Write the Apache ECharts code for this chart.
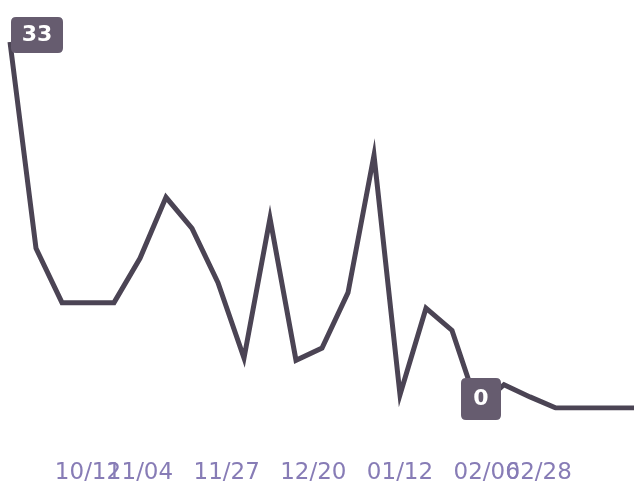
<!DOCTYPE html>
<html>
<head>
<meta charset="utf-8">
<script src="https://cdn.jsdelivr.net/npm/echarts@6/dist/echarts.min.js"></script>
<style>
  html, body { margin: 0; padding: 0; background: #ffffff; }
  #chart { width: 634px; height: 490px; }
</style>
</head>
<body>
<div id="chart"></div>
<script>
// Weekly counts, one value per week
const weeks = ['W01','W02','W03','W04','W05','W06','W07','W08','W09','W10','W11','W12','W13',
               'W14','W15','W16','W17','W18','W19','W20','W21','W22','W23','W24','W25'];
const counts = [33, 14.4, 9.5, 9.5, 9.5, 13.5, 19, 16.2, 11.3, 4.5, 17.1, 4.3, 5.4,
                10.4, 22.8, 1.2, 9, 7, 0, 2.1, 1, 0, 0, 0, 0];

// Date ticks along the bottom, placed in week units
const tickLabels = ['10/12', '11/04', '11/27', '12/20', '01/12', '02/06', '02/28'];
const tickWeeks = [3, 5, 25 / 3, 35 / 3, 15, 55 / 3, 61 / 3];

const chart = echarts.init(document.getElementById('chart'), null, { renderer: 'canvas' });

// Two label rows sharing one baseline, so neighbouring dates may touch
function dateAxis(parity) {
  const vals = tickWeeks.filter(function (_, i) { return i % 2 === parity; });
  return {
    type: 'value',
    min: 0,
    max: weeks.length - 1,
    position: 'bottom',
    axisLine: { show: false },
    axisTick: { show: false },
    splitLine: { show: false },
    axisLabel: {
      customValues: vals,
      margin: 54,
      color: '#877cb6',
      fontFamily: 'DejaVu Sans',
      fontSize: 23,
      hideOverlap: false,
      formatter: function (v) {
        let best = 0;
        tickWeeks.forEach(function (w, i) {
          if (Math.abs(w - v) < Math.abs(tickWeeks[best] - v)) best = i;
        });
        return tickLabels[best];
      }
    }
  };
}

const badgeColor = '#665c6f';
const badgeLabel = {
  show: true,
  position: 'inside',
  color: '#ffffff',
  fontFamily: 'DejaVu Sans',
  fontWeight: 'bold',
  fontSize: 22,
  formatter: '{c}'
};
const badgeWide = 'path://M5,0H47Q52,0 52,5V31Q52,36 47,36H5Q0,36 0,31V5Q0,0 5,0Z';
const badgeSquare = 'path://M5,0H35Q40,0 40,5V37Q40,42 35,42H5Q0,42 0,37V5Q0,0 5,0Z';

chart.setOption({
  animation: false,
  backgroundColor: '#ffffff',
  grid: { left: 10, right: 0, top: 42, bottom: 82, containLabel: false },
  xAxis: [
    { type: 'category', data: weeks, boundaryGap: false, show: false },
    dateAxis(0),
    dateAxis(1)
  ],
  yAxis: { type: 'value', min: 0, max: 33, show: false },
  series: [
    {
      type: 'line',
      xAxisIndex: 0,
      data: counts,
      showSymbol: false,
      symbol: 'none',
      lineStyle: { color: '#4b4454', width: 5, join: 'miter' },
      markPoint: {
        itemStyle: { color: badgeColor },
        label: badgeLabel,
        data: [
          { type: 'max', symbol: badgeWide, symbolSize: [52, 36], symbolOffset: [27, -7] },
          { type: 'min', symbol: badgeSquare, symbolSize: [40, 42], symbolOffset: [3, -9] }
        ]
      }
    }
  ]
});
</script>
</body>
</html>
